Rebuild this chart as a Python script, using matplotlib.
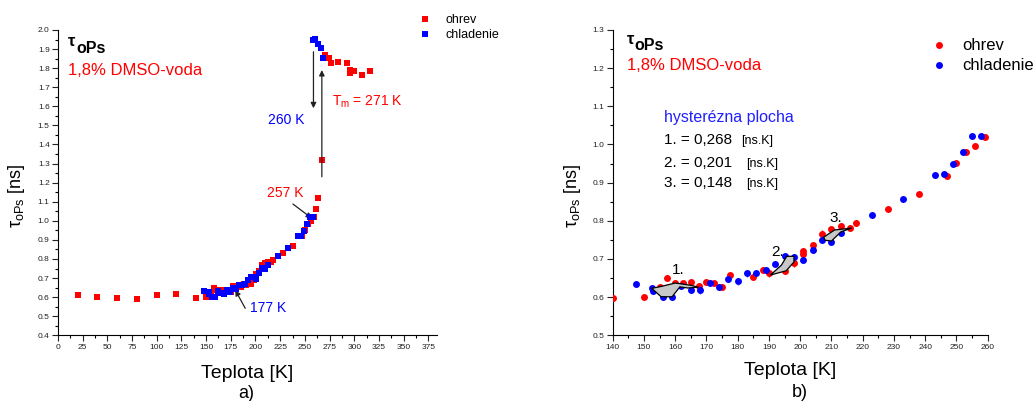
import matplotlib
matplotlib.use("Agg")
import matplotlib.pyplot as plt
from matplotlib.lines import Line2D
from matplotlib.patches import Polygon
from matplotlib.ticker import MultipleLocator
from matplotlib.transforms import offset_copy

plt.rcParams['font.family'] = ['Liberation Sans', 'DejaVu Sans']
plt.rcParams['mathtext.fontset'] = 'custom'
plt.rcParams['mathtext.rm'] = 'Liberation Sans'
plt.rcParams['mathtext.it'] = 'Liberation Sans:italic'
plt.rcParams['mathtext.bf'] = 'Liberation Sans:bold'

# ---- data: o-Ps lifetime in 1.8 % DMSO-water ----
# heating (ohrev), low temperature part only shown in panel a)
low_T = [20, 40, 60, 80, 100, 120]
low_tau = [0.611, 0.601, 0.597, 0.590, 0.610, 0.614]

# heating, 140-259 K (shown in both panels)
heat_T = [140, 150, 155, 157.5, 160, 162.5, 165, 167.5, 170, 172.5, 175, 177.5,
          185, 188, 190, 195, 198, 201, 201, 204, 207, 210, 213, 216, 218,
          228, 238, 247, 250, 253, 256, 259]
heat_tau = [0.597, 0.601, 0.626, 0.650, 0.638, 0.637, 0.640, 0.628, 0.640, 0.637, 0.626, 0.657,
            0.653, 0.670, 0.662, 0.669, 0.690, 0.720, 0.712, 0.737, 0.766, 0.778, 0.786, 0.782, 0.794,
            0.830, 0.869, 0.918, 0.951, 0.981, 0.997, 1.019]
heat_err = [0.004, 0.004, 0.006, 0.008, 0.008, 0.008, 0.005, 0.010, 0.008, 0.006, 0.008, 0.006,
            0.008, 0.008, 0.008, 0.008, 0.012, 0.010, 0.008, 0.006, 0.010, 0.006, 0.008, 0.005, 0.008,
            0.006, 0.004, 0.004, 0.006, 0.006, 0.006, 0.008]

# heating through melting, panel a) only
melt_T = [261, 263.5, 267, 270.5, 274, 276.5, 284, 292.5, 296, 296, 300, 308, 316]
melt_tau = [1.06, 1.12, 1.32, 1.869, 1.852, 1.826, 1.834, 1.826, 1.776, 1.790, 1.787, 1.766, 1.787]

# cooling (chladenie), 147-258 K (shown in both panels)
cool_T = [147.5, 152.5, 153, 156, 159, 162, 165, 168, 171, 174, 177, 180, 183, 186, 189,
          192, 195, 198, 201, 204, 207, 210, 213, 223, 233, 243, 246, 249, 252, 255, 258]
cool_tau = [0.634, 0.625, 0.615, 0.601, 0.600, 0.630, 0.620, 0.619, 0.638, 0.626, 0.648, 0.641,
            0.662, 0.664, 0.671, 0.688, 0.707, 0.706, 0.697, 0.724, 0.751, 0.745, 0.767,
            0.815, 0.856, 0.920, 0.923, 0.949, 0.981, 1.022, 1.022]
cool_err = [0.005, 0.006, 0.008, 0.006, 0.008, 0.006, 0.008, 0.010, 0.006, 0.008, 0.008, 0.008,
            0.008, 0.006, 0.008, 0.008, 0.006, 0.006, 0.008, 0.008, 0.008, 0.008, 0.008,
            0.006, 0.006, 0.006, 0.005, 0.006, 0.006, 0.005, 0.005]

# cooling of the liquid, panel a) only
liq_T = [258.7, 260.4, 263.8, 266.2, 268.8]
liq_tau = [1.948, 1.951, 1.927, 1.904, 1.852]

# hysteresis loop areas (T [K], tau [ns])
loop1 = [(152.5, 0.623), (155.5, 0.601), (159, 0.601), (161.5, 0.627), (164, 0.624),
         (167.5, 0.626), (165, 0.631), (160, 0.637), (155.5, 0.628)]
loop2 = [(190.5, 0.658), (194, 0.684), (195.7, 0.707), (198, 0.707), (198, 0.692), (195.5, 0.669)]
loop3 = [(207.5, 0.757), (211, 0.776), (216.5, 0.781), (213, 0.771), (210, 0.747), (208, 0.749)]
loop_labels = ['1.', '2.', '3.']
loop_label_pos = [(158.8, 0.661), (190.8, 0.709), (209.5, 0.797)]
loop_areas = ['0,268', '0,201', '0,148']

RED = '#ff0000'
BLUE = '#0000ff'

W, H = 1035, 401
fig = plt.figure(figsize=(W / 100, H / 100), dpi=100)


def px_axes(x0, x1, ytop, ybot):
    return [x0 / W, 1 - ybot / H, (x1 - x0) / W, (ybot - ytop) / H]


def tau_ops_title(ax, x, y):
    """Bold tau with a lowered, same-size 'oPs'."""
    ax.text(x, y, 'τ', transform=ax.transAxes, fontsize=12, fontweight='bold')
    tr = offset_copy(ax.transAxes, fig=fig, x=5.6, y=-4.8, units='points')
    ax.text(x, y, 'oPs', transform=tr, fontsize=11.5, fontweight='bold')


ax1 = fig.add_axes(px_axes(58, 436.7, 30, 335.3))
ax2 = fig.add_axes(px_axes(612.7, 987.7, 30, 335.3))

for ax in (ax1, ax2):
    ax.spines['top'].set_visible(False)
    ax.spines['right'].set_visible(False)
    ax.tick_params(which='major', direction='out', length=4, width=0.8, labelsize=6,
                   pad=2, colors='#222222')
    ax.tick_params(which='minor', direction='out', length=2.2, width=0.8)
    ax.yaxis.set_major_locator(MultipleLocator(0.1))
    ax.yaxis.set_minor_locator(MultipleLocator(0.05))
    ax.yaxis.set_major_formatter(matplotlib.ticker.FormatStrFormatter('%.1f'))

# ---- panel a) ----
all_heat_T = low_T + heat_T + melt_T
all_heat_tau = low_tau + heat_tau + melt_tau
all_cool_T = cool_T + liq_T
all_cool_tau = cool_tau + liq_tau
ax1.plot(all_heat_T, all_heat_tau, 's', color=RED, ms=5, mew=0, zorder=3)
ax1.plot(all_cool_T, all_cool_tau, 's', color=BLUE, ms=5, mew=0, zorder=4)
ax1.set_xlim(0, 383.5)
ax1.set_ylim(0.4, 2.0)
ax1.xaxis.set_major_locator(MultipleLocator(25))
ax1.xaxis.set_minor_locator(MultipleLocator(12.5))

tau_ops_title(ax1, 0.027, 0.947)
ax1.text(0.027, 0.853, '1,8% DMSO-voda', transform=ax1.transAxes, fontsize=12, color=RED)
ax1.text(0.555, 0.692, '260 K', transform=ax1.transAxes, fontsize=10, color=BLUE)
ax1.text(0.723, 0.754, 'T$_\\mathrm{m}$ = 271 K', transform=ax1.transAxes, fontsize=10, color=RED)
ax1.text(0.551, 0.454, '257 K', transform=ax1.transAxes, fontsize=10, color=RED)
ax1.text(0.507, 0.077, '177 K', transform=ax1.transAxes, fontsize=10, color=BLUE)

arrow = dict(arrowstyle='-|>', color='#222222', lw=0.9, mutation_scale=8, shrinkA=0, shrinkB=0)
ax1.annotate('', xy=(258.7, 1.59), xytext=(258.7, 1.886), arrowprops=arrow)
ax1.annotate('', xy=(267.2, 1.79), xytext=(267.2, 1.231), arrowprops=arrow)
ax1.annotate('', xy=(257.1, 1.013), xytext=(237.9, 1.088), arrowprops=arrow)
ax1.annotate('', xy=(179.5, 0.637), xytext=(189.6, 0.5415), arrowprops=arrow)

ax1.legend(handles=[Line2D([], [], ls='', marker='s', color=RED, ms=5, mew=0),
                    Line2D([], [], ls='', marker='s', color=BLUE, ms=5, mew=0)],
           labels=['ohrev', 'chladenie'], loc='upper left', fontsize=9,
           bbox_to_anchor=(418.8 / W, 1 - 14 / H), bbox_transform=fig.transFigure,
           frameon=False, borderpad=0, borderaxespad=0, handlelength=1.0,
           handletextpad=1.1, labelspacing=0.25)

# ---- panel b) ----
ax2.errorbar(heat_T, heat_tau, yerr=heat_err, fmt='o', color=RED, ms=5, mew=0,
             ecolor=RED, elinewidth=0.9, capsize=2, capthick=0.9, zorder=3)
ax2.errorbar(cool_T, cool_tau, yerr=cool_err, fmt='o', color=BLUE, ms=5, mew=0,
             ecolor=(0.2, 0.2, 1.0, 0.8), elinewidth=0.9, capsize=2, capthick=0.9, zorder=4)
ax2.set_xlim(140, 260)
ax2.set_ylim(0.5, 1.3)
ax2.xaxis.set_major_locator(MultipleLocator(10))
ax2.xaxis.set_minor_locator(MultipleLocator(5))

for loop in (loop1, loop2, loop3):
    ax2.add_patch(Polygon(loop, closed=True, facecolor='#c8c8c8', edgecolor='black',
                          lw=0.9, zorder=5))
for lab, (lx, ly) in zip(loop_labels, loop_label_pos):
    ax2.text(lx, ly, lab, fontsize=11, zorder=6)

tau_ops_title(ax2, 0.037, 0.955)
ax2.text(0.037, 0.869, '1,8% DMSO-voda', transform=ax2.transAxes, fontsize=12, color=RED)
ax2.text(0.138, 0.70, 'hysterézna plocha', transform=ax2.transAxes, fontsize=11.5,
         color='#2020ff')
area_y = [0.626, 0.552, 0.485]
unit_x = [0.342, 0.355, 0.355]
for i, (val, yy) in enumerate(zip(loop_areas, area_y)):
    ax2.text(0.138, yy, f'{i + 1}. = {val}', transform=ax2.transAxes, fontsize=11)
    ax2.text(unit_x[i], yy, '[ns.K]', transform=ax2.transAxes, fontsize=9)

ax2.legend(handles=[Line2D([], [], ls='', marker='o', color=RED, ms=5, mew=0),
                    Line2D([], [], ls='', marker='o', color=BLUE, ms=5, mew=0)],
           labels=['ohrev', 'chladenie'], loc='upper left', fontsize=12,
           bbox_to_anchor=(930.7 / W, 1 - 38.5 / H), bbox_transform=fig.transFigure,
           frameon=False, borderpad=0, borderaxespad=0, handlelength=1.0,
           handletextpad=0.92, labelspacing=0.3)

# ---- axis titles ----
for cx, cy in ((16.7, 196), (572.5, 195.5)):
    fig.text(cx / W, 1 - cy / H, 'τ$_\\mathrm{oPs}$ [ns]', rotation=90, ha='center',
             va='center', fontsize=13)
fig.text(246.7 / W, 1 - 378.3 / H, 'Teplota [K]', ha='center', va='baseline', fontsize=14)
fig.text(246.7 / W, 1 - 398 / H, 'a)', ha='center', va='baseline', fontsize=13)
fig.text(790 / W, 1 - 375 / H, 'Teplota [K]', ha='center', va='baseline', fontsize=14)
fig.text(800 / W, 1 - 397 / H, 'b)', ha='center', va='baseline', fontsize=13)

fig.savefig('out.png', dpi=100)
